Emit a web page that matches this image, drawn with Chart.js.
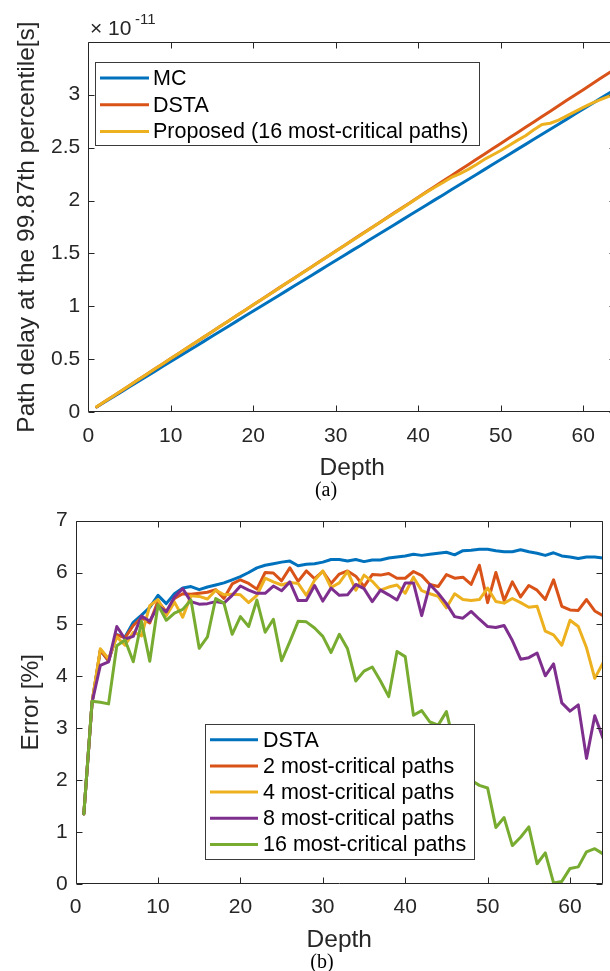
<!DOCTYPE html>
<html>
<head>
<meta charset="utf-8">
<script src="https://cdn.jsdelivr.net/npm/chart.js@4.4.1/dist/chart.umd.min.js"></script>
<style>
html,body{margin:0;padding:0;background:#fff;overflow:hidden;width:610px;height:971px;}
#wrapA{position:absolute;left:0;top:0;width:625px;height:500px;}
#wrapB{position:absolute;left:0;top:500px;width:610px;height:471px;}
.cap{position:absolute;font-family:"Liberation Serif","Times New Roman",serif;font-size:20px;color:#000;transform:translate(-50%,-50%);white-space:nowrap;}
</style>
</head>
<body>
<div id="wrapA"><canvas id="chartA" width="625" height="500"></canvas></div>
<div id="wrapB"><canvas id="chartB" width="610" height="471"></canvas></div>
<div class="cap" style="left:326px;top:489px;">(a)</div>
<div class="cap" style="left:322px;top:961px;">(b)</div>
<script>
// ---------------- data ----------------
const depth = [1,2,3,4,5,6,7,8,9,10,11,12,13,14,15,16,17,18,19,20,21,22,23,24,25,26,27,28,29,30,31,32,
               33,34,35,36,37,38,39,40,41,42,43,44,45,46,47,48,49,50,51,52,53,54,55,56,57,58,59,60,61,62,63,64];

// (a) path delay at the 99.87th percentile, in units of 1e-11 s
const mcDelay = [0.050,0.098,0.145,0.193,0.241,0.289,0.336,0.384,0.432,0.479,
                 0.527,0.575,0.622,0.670,0.718,0.766,0.813,0.861,0.909,0.956,
                 1.004,1.052,1.099,1.147,1.195,1.243,1.290,1.338,1.386,1.433,
                 1.481,1.529,1.576,1.624,1.672,1.720,1.767,1.815,1.863,1.910,
                 1.958,2.006,2.053,2.101,2.149,2.197,2.244,2.292,2.340,2.387,
                 2.435,2.483,2.530,2.578,2.626,2.674,2.721,2.769,2.817,2.864,
                 2.912,2.960,3.007,3.055];
const dstaDelay = [0.050,0.101,0.152,0.202,0.253,0.304,0.355,0.406,0.456,0.507,
                   0.558,0.609,0.660,0.710,0.761,0.812,0.863,0.914,0.964,1.015,
                   1.066,1.117,1.168,1.218,1.269,1.320,1.371,1.422,1.472,1.523,
                   1.574,1.625,1.676,1.726,1.777,1.828,1.879,1.930,1.980,2.031,
                   2.082,2.133,2.184,2.234,2.285,2.336,2.387,2.438,2.488,2.539,
                   2.590,2.641,2.692,2.742,2.793,2.844,2.895,2.946,2.996,3.047,
                   3.098,3.149,3.200,3.250];
const proposedDelay = [0.052,0.102,0.152,0.203,0.254,0.305,0.355,0.406,0.457,0.508,
                       0.558,0.609,0.660,0.711,0.761,0.812,0.862,0.913,0.964,1.015,
                       1.065,1.116,1.167,1.218,1.268,1.319,1.370,1.420,1.471,1.522,
                       1.572,1.623,1.673,1.724,1.775,1.825,1.876,1.926,1.977,2.028,
                       2.078,2.125,2.170,2.218,2.252,2.292,2.338,2.388,2.430,2.472,
                       2.520,2.568,2.612,2.668,2.718,2.730,2.760,2.800,2.840,2.880,
                       2.918,2.950,2.982,3.012];
const seriesNamesA = ['MC','DSTA','Proposed (16 most-critical paths)'];
const xTicksA = [0,10,20,30,40,50,60];
const yTicksA = [0,0.5,1,1.5,2,2.5,3];

// (b) error [%]
const errDSTA = [1.35,3.50,4.50,4.30,4.80,4.76,5.04,5.18,5.33,5.56,
                 5.40,5.59,5.70,5.73,5.67,5.72,5.76,5.80,5.86,5.92,
                 6.00,6.09,6.14,6.17,6.20,6.22,6.13,6.16,6.17,6.20,
                 6.25,6.25,6.22,6.25,6.21,6.24,6.24,6.28,6.30,6.32,
                 6.35,6.33,6.35,6.37,6.39,6.34,6.42,6.43,6.45,6.45,
                 6.42,6.40,6.40,6.44,6.40,6.37,6.33,6.38,6.32,6.30,
                 6.27,6.30,6.30,6.28];
const err2 = [1.35,3.50,4.50,4.30,4.80,4.74,4.98,5.13,5.03,5.45,
              5.24,5.50,5.59,5.58,5.60,5.62,5.67,5.50,5.78,5.86,
              5.79,5.68,6.00,5.99,5.84,6.09,5.83,6.03,5.88,6.02,
              5.79,5.97,6.03,5.93,5.73,5.96,5.95,5.98,5.89,5.89,
              6.02,5.94,5.77,5.73,5.96,5.89,5.91,5.77,6.14,5.42,
              6.00,5.46,5.82,5.53,5.75,5.66,5.48,5.86,5.35,5.28,
              5.27,5.48,5.26,5.17];
const err4 = [1.35,3.50,4.53,4.34,4.76,4.60,4.85,4.78,5.36,5.48,
              5.17,5.43,5.14,5.55,5.54,5.49,5.66,5.57,5.58,5.57,
              5.42,5.56,5.89,5.82,5.76,5.81,5.79,5.56,5.85,6.03,
              5.71,5.80,6.02,5.66,5.95,5.83,5.66,5.72,5.76,5.60,
              5.91,5.65,5.59,5.54,5.32,5.59,5.48,5.46,5.48,5.70,
              5.44,5.41,5.50,5.42,5.33,5.35,4.87,4.80,4.60,5.08,
              4.96,4.55,3.96,4.26];
const err8 = [1.35,3.50,4.21,4.28,4.96,4.72,4.77,5.16,5.06,5.36,
              5.24,5.53,5.69,5.44,5.39,5.40,5.44,5.41,5.56,5.74,
              5.66,5.60,5.60,5.74,5.65,5.82,5.46,5.46,5.75,5.45,
              5.70,5.56,5.57,5.77,5.69,5.44,5.66,5.57,5.47,5.80,
              5.80,5.17,5.77,5.60,5.40,5.15,5.12,5.25,5.10,4.96,
              4.94,4.98,4.69,4.33,4.36,4.45,4.01,4.24,3.49,3.33,
              3.45,2.42,3.24,2.81];
const err16 = [1.35,3.52,3.50,3.47,4.59,4.70,4.28,5.06,4.29,5.38,
               5.08,5.22,5.29,5.47,4.54,4.76,5.50,5.41,4.81,5.15,
               4.96,5.47,4.85,5.10,4.30,4.67,5.06,5.05,4.93,4.77,
               4.46,4.81,4.53,3.91,4.10,4.18,3.91,3.61,4.48,4.38,
               3.25,3.34,3.12,3.06,3.32,2.65,2.30,2.00,1.90,1.85,
               1.09,1.28,0.74,0.90,1.10,0.39,0.60,0.02,0.05,0.30,
               0.33,0.62,0.68,0.58];
const seriesNamesB = ['DSTA','2 most-critical paths','4 most-critical paths','8 most-critical paths','16 most-critical paths'];
const xTicksB = [0,10,20,30,40,50,60];
const yTicksB = [0,1,2,3,4,5,6,7];

// ---------------- style ----------------
const FONT = '"Liberation Sans", Arial, Helvetica, sans-serif';
const AX = '#262626';
const C = {blue:'#0072BD', orange:'#D95319', yellow:'#EDB120', purple:'#7E2F8E', green:'#77AC30'};
const LW = 3;

const pts = vals => depth.map((d,i)=>({x:d, y:vals[i]}));
const fixTicks = list => (s => { s.ticks = list.map(v=>({value:v})); });

const matlabAxes = {
  id:'matlabAxes',
  afterDatasetsDraw(chart, args, o){
    const {ctx, chartArea:a, scales:{x,y}} = chart;
    ctx.save();
    ctx.strokeStyle = AX; ctx.lineWidth = 1;
    const L=Math.round(a.left)+0.5, R=Math.round(a.right)-0.5, T=Math.round(a.top)+0.5, B=Math.round(a.bottom)-0.5;
    const len = 6;
    ctx.beginPath();
    ctx.rect(L,T,R-L,B-T);
    x.ticks.forEach(t=>{const px=Math.round(x.getPixelForValue(t.value))+0.5; ctx.moveTo(px,B); ctx.lineTo(px,B-len); ctx.moveTo(px,T); ctx.lineTo(px,T+len);});
    y.ticks.forEach(t=>{const py=Math.round(y.getPixelForValue(t.value))+0.5; ctx.moveTo(L,py); ctx.lineTo(L+len,py); ctx.moveTo(R,py); ctx.lineTo(R-len,py);});
    ctx.stroke();
    ctx.restore();
  }
};

const boxLegend = {
  id:'boxLegend',
  afterDatasetsDraw(chart, args, o){
    if(!o || !o.bx) return;
    const ctx = chart.ctx;
    ctx.save();
    ctx.fillStyle = '#fff';
    ctx.fillRect(o.bx, o.by, o.bw, o.bh);
    ctx.strokeStyle = '#3a3a3a'; ctx.lineWidth = 1;
    ctx.strokeRect(o.bx+0.5, o.by+0.5, o.bw-1, o.bh-1);
    ctx.font = o.fontSize + 'px ' + FONT;
    ctx.textBaseline = 'middle'; ctx.textAlign = 'left';
    chart.data.datasets.forEach((ds,i)=>{
      const yy = o.row0 + i*o.rowStep;
      ctx.strokeStyle = ds.borderColor; ctx.lineWidth = ds.borderWidth;
      ctx.beginPath(); ctx.moveTo(o.lx0, yy-1); ctx.lineTo(o.lx1, yy-1); ctx.stroke();
      ctx.fillStyle = '#000';
      ctx.fillText(ds.label, o.tx, yy);
    });
    ctx.restore();
  }
};

const expLabel = {
  id:'expLabel',
  afterDraw(chart, args, o){
    if(!o || !o.base) return;
    const ctx = chart.ctx;
    ctx.save();
    ctx.fillStyle = AX; ctx.textBaseline = 'alphabetic'; ctx.textAlign = 'left';
    ctx.font = '21px ' + FONT;
    ctx.fillText('\u00D7', 90, 35);
    ctx.fillText(o.base, 108, 35);
    ctx.font = '15px ' + FONT;
    ctx.fillText(o.sup, 135, 23.5);
    ctx.restore();
  }
};

function lineDs(label, vals, color, order){
  return {label, data: pts(vals), borderColor: color, backgroundColor: color, borderWidth: LW,
          pointRadius: 0, tension: 0, fill: false, order, borderJoinStyle:'round', borderCapStyle:'round'};
}

function scalesCfg(p){
  return {
    x:{type:'linear', min:0, max:64, afterBuildTicks: fixTicks(p.xTicks), afterFit: s=>{ s.height = p.xH; },
       grid:{display:false, drawTicks:false}, border:{display:false},
       ticks:{padding:11, color:AX, font:{family:FONT, size:21}, maxRotation:0, autoSkip:false, callback:v=>String(v)},
       title:{display:true, text:'Depth', color:AX, font:{family:FONT, size:24.5}, padding:{top:0, bottom:p.xTitlePad}}},
    y:{type:'linear', min:0, max:p.yMax, afterBuildTicks: fixTicks(p.yTicks), afterFit: s=>{ s.width = p.yW; },
       grid:{display:false, drawTicks:false}, border:{display:false},
       ticks:{padding:8, color:AX, font:{family:FONT, size:21}, autoSkip:false, callback:v=>String(v)},
       title:{display:true, text:p.yTitle, color:AX, font:{family:FONT, size:24.5}, padding:{top:p.yTitlePad, bottom:0}}}
  };
}

new Chart(document.getElementById('chartA'), {
  type:'line',
  data:{datasets:[
    lineDs(seriesNamesA[0], mcDelay, C.blue, 2),
    lineDs(seriesNamesA[1], dstaDelay, C.orange, 1),
    lineDs(seriesNamesA[2], proposedDelay, C.yellow, 0)
  ]},
  options:{
    responsive:false, animation:false, devicePixelRatio:1,
    layout:{padding:{top:41.7, right:8.7, left:0, bottom:0}},
    plugins:{legend:{display:false}, tooltip:{enabled:false},
      boxLegend:{bx:95, by:62, bw:385, bh:84, row0:79, rowStep:26.7, lx0:100, lx1:149, tx:153, fontSize:21.5},
      expLabel:{base:'10', sup:'-11'}},
    scales: scalesCfg({xTicks:xTicksA, yTicks:yTicksA, yMax:3.5, xH:87.7, yW:88.3, xTitlePad:17.3, yTitlePad:12.3,
                       yTitle:'Path delay at the 99.87th percentile[s]'})
  },
  plugins:[matlabAxes, boxLegend, expLabel]
});

new Chart(document.getElementById('chartB'), {
  type:'line',
  data:{datasets:[
    lineDs(seriesNamesB[0], errDSTA, C.blue, 4),
    lineDs(seriesNamesB[1], err2, C.orange, 3),
    lineDs(seriesNamesB[2], err4, C.yellow, 2),
    lineDs(seriesNamesB[3], err8, C.purple, 1),
    lineDs(seriesNamesB[4], err16, C.green, 0)
  ]},
  options:{
    responsive:false, animation:false, devicePixelRatio:1,
    layout:{padding:{top:16, right:7, left:0, bottom:0}},
    plugins:{legend:{display:false}, tooltip:{enabled:false},
      boxLegend:{bx:205, by:224, bw:270, bh:136, row0:240.7, rowStep:26.2, lx0:210, lx1:258, tx:263, fontSize:21.5}},
    scales: scalesCfg({xTicks:xTicksB, yTicks:yTicksB, yMax:7, xH:87, yW:75.6, xTitlePad:16.3, yTitlePad:16.3,
                       yTitle:'Error [%]'})
  },
  plugins:[matlabAxes, boxLegend]
});
</script>
</body>
</html>
